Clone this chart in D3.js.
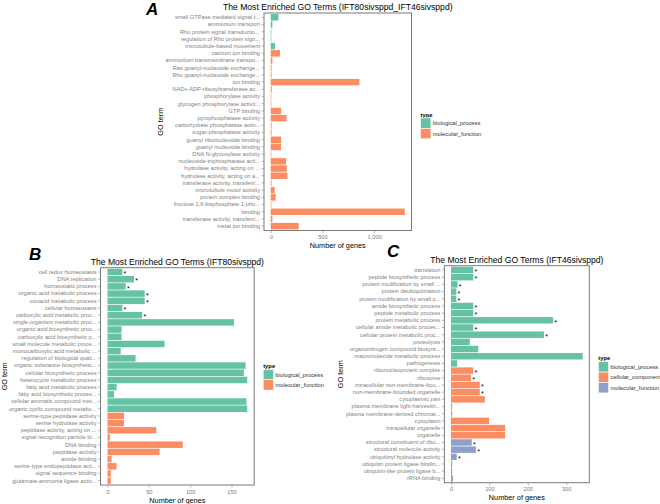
<!DOCTYPE html>
<html><head><meta charset="utf-8">
<script src="https://cdn.jsdelivr.net/npm/d3@7"></script>
<style>body{margin:0;background:#fff}svg{display:block}text{font-family:"Liberation Sans",Arial,Helvetica,sans-serif}</style>
</head><body>
<svg id="c" width="660" height="504"></svg>
<script>
// ---------------- DATA ----------------
const termsA = ["small GTPase mediated signal t...","ammonium transport","Rho protein signal transductio...","regulation of Rho protein sign...","microtubule-based movement","calcium ion binding","ammonium transmembrane transpo...","Ras guanyl-nucleotide exchange...","Rho guanyl-nucleotide exchange...","ion binding","NAD+ ADP-ribosyltransferase ac...","phosphorylase activity","glycogen phosphorylase activit...","GTP binding","pyrophosphatase activity","carbohydrate phosphatase activ...","sugar-phosphatase activity","guanyl ribonucleotide binding","guanyl nucleotide binding","DNA N-glycosylase activity","nucleoside-triphosphatase acti...","hydrolase activity, acting on ...","hydrolase activity, acting on a...","transferase activity, transferri...","microtubule motor activity","protein complex binding","fructose 1,6-bisphosphate 1-pho...","binding","transferase activity, transferri...","metal ion binding"];
const valuesA = [74,16,4,4,42,90,16,8,8,857,10,4,4,100,152,8,8,100,100,4,148,155,161,8,39,48,4,1296,16,271];
const typesA = ["biological_process","biological_process","biological_process","biological_process","biological_process","molecular_function","molecular_function","molecular_function","molecular_function","molecular_function","molecular_function","molecular_function","molecular_function","molecular_function","molecular_function","molecular_function","molecular_function","molecular_function","molecular_function","molecular_function","molecular_function","molecular_function","molecular_function","molecular_function","molecular_function","molecular_function","molecular_function","molecular_function","molecular_function","molecular_function"];
const starsA = termsA.map(() => false);
const ticksA = [0,500,1000];
const typeNamesA = ["biological_process","molecular_function"];

const termsB = ["cell redox homeostasis","DNA replication","homeostatic process","organic acid metabolic process","oxoacid metabolic process","cellular homeostasis","carboxylic acid metabolic proc...","single-organism metabolic proc...","organic acid biosynthetic proc...","carboxylic acid biosynthetic p...","small molecule metabolic proce...","monocarboxylic acid metabolic ...","regulation of biological quali...","organic substance biosynthetic...","cellular biosynthetic process","heterocycle metabolic process","fatty acid metabolic process","fatty acid biosynthetic proces...","cellular aromatic compound met...","organic cyclic compound metabo...","serine-type peptidase activity","serine hydrolase activity","peptidase activity, acting on ...","signal recognition particle bi...","DNA binding","peptidase activity","amide binding","serine-type endopeptidase acti...","signal sequence binding","glutamate-ammonia ligase activ..."];
const valuesB = [18,32,22,45,45,18,42,153,17,17,69,16,34,167,165,169,11,8,168,169,20,20,59,3,91,63,5,11,4,4];
const typesB = ["biological_process","biological_process","biological_process","biological_process","biological_process","biological_process","biological_process","biological_process","biological_process","biological_process","biological_process","biological_process","biological_process","biological_process","biological_process","biological_process","biological_process","biological_process","biological_process","biological_process","molecular_function","molecular_function","molecular_function","molecular_function","molecular_function","molecular_function","molecular_function","molecular_function","molecular_function","molecular_function"];
const starsB = [true,true,true,true,true,true,true,false,false,false,false,false,false,false,false,false,false,false,false,false,false,false,false,false,false,false,false,false,false,false];
const ticksB = [0,50,100,150];
const typeNamesB = ["biological_process","molecular_function"];

const termsC = ["translation","peptide biosynthetic process","protein modification by small ...","protein deubiquitination","protein modification by small p...","amide biosynthetic process","peptide metabolic process","protein metabolic process","cellular amide metabolic proces...","cellular protein metabolic proc...","proteolysis","organonitrogen compound biosynt...","macromolecule metabolic process","pathogenesis","ribonucleoprotein complex","ribosome","intracellular non-membrane-bou...","non-membrane-bounded organelle","cytoplasmic part","plasma membrane light-harvestin...","plasma membrane-derived chromat...","cytoplasm","intracellular organelle","organelle","structural constituent of ribo...","structural molecule activity","ubiquitinyl hydrolase activity","ubiquitin protein ligase bindin...","ubiquitin-like protein ligase b...","rRNA binding"];
const valuesC = [58,58,17,14,14,58,58,266,58,242,49,71,343,16,58,52,75,75,88,3,3,99,141,141,54,65,15,3,3,5];
const typesC = ["biological_process","biological_process","biological_process","biological_process","biological_process","biological_process","biological_process","biological_process","biological_process","biological_process","biological_process","biological_process","biological_process","biological_process","cellular_component","cellular_component","cellular_component","cellular_component","cellular_component","cellular_component","cellular_component","cellular_component","cellular_component","cellular_component","molecular_function","molecular_function","molecular_function","molecular_function","molecular_function","molecular_function"];
const starsC = [true,true,true,true,true,true,true,true,true,true,false,false,false,false,true,true,true,true,false,false,false,false,false,false,true,true,true,false,false,false];
const ticksC = [0,100,200,300];
const typeNamesC = ["biological_process","cellular_component","molecular_function"];

const titleA = "The Most Enriched GO Terms (IFT80sivsppd_IFT46sivsppd)";
const titleB = "The Most Enriched GO Terms (IFT80sivsppd)";
const titleC = "The Most Enriched GO Terms (IFT46sivsppd)";
const palette = ["#66C2A5","#FC8D62","#8DA0CB"];

// ---------------- DRAW ----------------
const svg = d3.select("#c");
svg.append("rect").attr("width",660).attr("height",504).attr("fill","#fff");

function panel(o) {
  const g = svg.append("g");
  const n = o.terms.length;
  const idx = d3.range(n);
  const color = d3.scaleOrdinal().domain(o.typeNames).range(palette);
  const mx = d3.max(o.values);
  const x = d3.scaleLinear().domain([-0.05*mx, 1.05*mx]).range([o.L, o.R]);
  const y = d3.scaleBand().domain(idx).range([o.T, o.B]).paddingInner(0.1).paddingOuter(0.15);

  g.selectAll("rect.bar").data(idx).join("rect")
    .attr("x", x(0)).attr("y", i => y(i))
    .attr("width", i => Math.max(0.6, x(o.values[i]) - x(0)))
    .attr("height", y.bandwidth())
    .attr("fill", i => color(o.types[i]));
  g.selectAll("text.star").data(idx.filter(i => o.stars[i])).join("text")
    .attr("x", i => x(o.values[i]) + 1.2)
    .attr("y", i => y(i) + y.bandwidth()/2 + 4.2)
    .attr("font-size", 7).attr("fill", "#000").text("*");
  g.append("rect").attr("x", o.L).attr("y", o.T).attr("width", o.R-o.L).attr("height", o.B-o.T)
    .attr("fill","none").attr("stroke","#7a7a7a").attr("stroke-width",1);

  const ya = d3.axisLeft(y).tickSize(2.5).tickPadding(1.5).tickFormat(i => o.terms[i]);
  const yg = g.append("g").attr("transform", `translate(${o.L},0)`).call(ya);
  yg.select(".domain").remove();
  yg.selectAll(".tick line").attr("stroke","#8a8a8a").attr("stroke-width",0.6);
  yg.selectAll(".tick text").attr("font-size",5.7).attr("fill","#808080").attr("font-family","Liberation Sans, Arial, sans-serif");

  const xa = d3.axisBottom(x).tickValues(o.ticks).tickSize(2.5).tickPadding(2);
  const xg = g.append("g").attr("transform", `translate(0,${o.B})`).call(xa);
  xg.select(".domain").remove();
  xg.selectAll(".tick line").attr("stroke","#8a8a8a").attr("stroke-width",0.6);
  xg.selectAll(".tick text").attr("font-size",5.7).attr("fill","#808080").attr("font-family","Liberation Sans, Arial, sans-serif");

  g.append("text").attr("x",(o.L+o.R)/2).attr("y",o.titleY).attr("text-anchor","middle")
    .attr("font-size",8.6).attr("fill","#000").text(o.title);
  g.append("text").attr("x",(o.L+o.R)/2).attr("y",o.B+17.5).attr("text-anchor","middle")
    .attr("font-size",7.3).attr("fill","#000").text("Number of genes");
  g.append("text").attr("transform",`translate(${o.ytX},${(o.T+o.B)/2}) rotate(-90)`).attr("text-anchor","middle")
    .attr("font-size",7.3).attr("fill","#000").text("GO term");

  const lx = o.R + 9, ly = o.legY;
  g.append("text").attr("x",lx).attr("y",ly-1.5).attr("font-size",5.8).attr("font-weight","bold").attr("fill","#000").text("type");
  o.typeNames.forEach((t,k) => {
    g.append("rect").attr("x",lx).attr("y",ly+k*10.4).attr("width",10.4).attr("height",10.4)
      .attr("fill",color(t)).attr("stroke","#fff").attr("stroke-width",0.6);
    g.append("text").attr("x",lx+12.2).attr("y",ly+k*10.4+7.3).attr("font-size",5.8).attr("fill","#333").text(t);
  });

  g.append("text").attr("x",o.letX).attr("y",o.letY).attr("font-size",17).attr("font-weight","bold")
    .attr("font-style","italic").attr("fill","#000").text(o.letter);
}

panel({terms:termsA, values:valuesA, types:typesA, stars:starsA, ticks:ticksA, typeNames:typeNamesA,
  title:titleA, L:264, R:411.5, T:13, B:230.5, titleY:9.5, ytX:163, legY:118, letter:"A", letX:146, letY:14.5});
panel({terms:termsB, values:valuesB, types:typesB, stars:starsB, ticks:ticksB, typeNames:typeNamesB,
  title:titleB, L:100.5, R:254.2, T:267.7, B:485, titleY:264.5, ytX:6.5, legY:369.3, letter:"B", letX:29, letY:260});
panel({terms:termsC, values:valuesC, types:typesC, stars:starsC, ticks:ticksC, typeNames:typeNamesC,
  title:titleC, L:444.4, R:589.3, T:265.7, B:482.7, titleY:262.5, ytX:343, legY:361.7, letter:"C", letX:387, letY:257});
</script>
</body></html>
